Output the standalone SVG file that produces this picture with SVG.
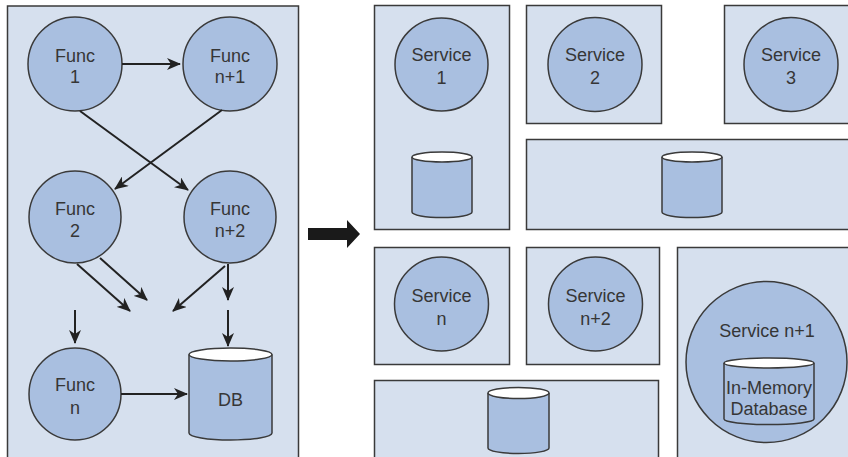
<svg xmlns="http://www.w3.org/2000/svg" width="848" height="457" viewBox="0 0 848 457">
<defs>
<style>
.panel{fill:#d6e0ee;stroke:#3a3a3a;stroke-width:1.5}
.node{fill:#a9bfe0;stroke:#3a3a3a;stroke-width:1.5}
.cap{fill:#ffffff;stroke:#3a3a3a;stroke-width:1.5}
.t{font-family:"Liberation Sans",Arial,sans-serif;font-size:18px;fill:#363636;text-anchor:middle}
.c{fill:none;stroke:#222222;stroke-width:2;marker-end:url(#ah)}
</style>
<marker id="ah" viewBox="0 0 14 12" refX="13" refY="6" markerWidth="14" markerHeight="12" markerUnits="userSpaceOnUse" orient="auto">
<path d="M0,0 L14,6 L0,12 L4,6 z" fill="#222222"/>
</marker>
</defs>
<rect width="848" height="457" fill="#ffffff"/>

<g id="left-panel">
<rect class="panel" x="7.5" y="6" width="291" height="460"/>
</g>

<g id="func1">
<circle class="node" cx="75" cy="64" r="47"/>
<text class="t" x="75" y="62">Func</text>
<text class="t" x="75" y="83">1</text>
</g>
<g id="funcn1">
<circle class="node" cx="230" cy="64" r="47"/>
<text class="t" x="230" y="62">Func</text>
<text class="t" x="230" y="83">n+1</text>
</g>
<g id="func2">
<circle class="node" cx="75" cy="217" r="46"/>
<text class="t" x="75" y="215">Func</text>
<text class="t" x="75" y="237">2</text>
</g>
<g id="funcn2">
<circle class="node" cx="230" cy="217" r="46"/>
<text class="t" x="230" y="215">Func</text>
<text class="t" x="230" y="237">n+2</text>
</g>
<g id="funcn">
<circle class="node" cx="75" cy="394" r="46"/>
<text class="t" x="75" y="391">Func</text>
<text class="t" x="75" y="414">n</text>
</g>
<g id="db">
<path class="node" d="M189,354.5 V433 A41.5,7 0 0 0 272,433 V354.5"/>
<ellipse class="cap" cx="230.5" cy="354.5" rx="41.5" ry="6.5"/>
<text class="t" x="230.5" y="406">DB</text>
</g>

<g id="connectors">
<line class="c" x1="122" y1="64" x2="180" y2="64"/>
<line class="c" x1="80" y1="111" x2="188" y2="190"/>
<line class="c" x1="222" y1="110" x2="115" y2="189"/>
<line class="c" x1="77" y1="264" x2="130" y2="311"/>
<line class="c" x1="100" y1="258" x2="147" y2="300"/>
<line class="c" x1="225" y1="266" x2="173" y2="311"/>
<line class="c" x1="228" y1="264" x2="228" y2="300"/>
<line class="c" x1="228" y1="310" x2="228" y2="346"/>
<line class="c" x1="75" y1="310" x2="75" y2="343"/>
<line class="c" x1="121" y1="394" x2="187" y2="394"/>
</g>

<g id="transform-arrow">
<path d="M308,228 H347 V220 L360,234 L347,248 V240 H308 z" fill="#1a1a1a"/>
</g>

<g id="service1-box">
<rect class="panel" x="374.5" y="5.5" width="135" height="224"/>
</g>
<g id="service1">
<circle class="node" cx="441.5" cy="64.5" r="46.5"/>
<text class="t" x="441.5" y="61">Service</text>
<text class="t" x="441.5" y="84">1</text>
</g>
<g id="db1">
<path class="node" d="M412,157 V212 A30,5.5 0 0 0 472,212 V157"/>
<ellipse class="cap" cx="442" cy="157" rx="30" ry="5"/>
</g>

<g id="service2-box">
<rect class="panel" x="526.5" y="5.5" width="135" height="118"/>
</g>
<g id="service2">
<circle class="node" cx="595" cy="64.5" r="47"/>
<text class="t" x="595" y="61">Service</text>
<text class="t" x="595" y="84">2</text>
</g>

<g id="service3-box">
<rect class="panel" x="724.5" y="5.5" width="130" height="118"/>
</g>
<g id="service3">
<circle class="node" cx="791" cy="64.5" r="47"/>
<text class="t" x="791" y="61">Service</text>
<text class="t" x="791" y="84">3</text>
</g>

<g id="shared-db-box">
<rect class="panel" x="526.5" y="139.5" width="330" height="90"/>
</g>
<g id="db2">
<path class="node" d="M662,157 V212 A30,5.5 0 0 0 722,212 V157"/>
<ellipse class="cap" cx="692" cy="157" rx="30" ry="5"/>
</g>

<g id="servicen-box">
<rect class="panel" x="374.5" y="247.5" width="135" height="117"/>
</g>
<g id="servicen">
<circle class="node" cx="441.5" cy="304" r="47"/>
<text class="t" x="441.5" y="302">Service</text>
<text class="t" x="441.5" y="325">n</text>
</g>

<g id="servicen2-box">
<rect class="panel" x="526.5" y="247.5" width="133" height="117"/>
</g>
<g id="servicen2">
<circle class="node" cx="595.5" cy="304" r="47"/>
<text class="t" x="595.5" y="302">Service</text>
<text class="t" x="595.5" y="325">n+2</text>
</g>

<g id="bottom-db-box">
<rect class="panel" x="374.5" y="380.5" width="284" height="90"/>
</g>
<g id="db3">
<path class="node" d="M488,393 V448 A30.5,5.5 0 0 0 549,448 V393"/>
<ellipse class="cap" cx="518.5" cy="393" rx="30.5" ry="5.5"/>
</g>

<g id="servicen1-box">
<rect class="panel" x="677.5" y="247.5" width="180" height="220"/>
</g>
<g id="servicen1">
<circle class="node" cx="766.5" cy="362" r="80.5"/>
<text class="t" x="767" y="337">Service n+1</text>
<path class="node" d="M724,363 V419 A45,5.5 0 0 0 814,419 V363"/>
<ellipse class="cap" cx="769" cy="363" rx="45" ry="5"/>
<text class="t" x="769" y="394">In-Memory</text>
<text class="t" x="769" y="415">Database</text>
</g>
</svg>
